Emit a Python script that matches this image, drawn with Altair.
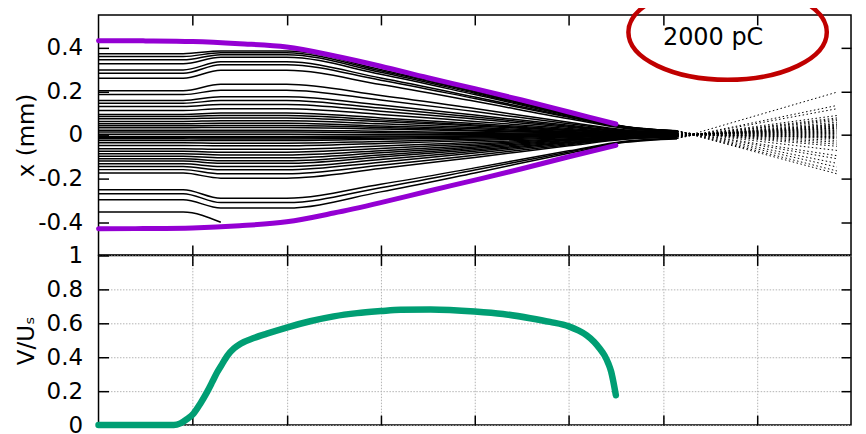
import altair as alt
import pandas as pd

FONT = "DejaVu Sans"

# ---------------- data ----------------
X_NODES = [0.0, 0.9, 1.3, 2.0, 3.0, 4.0, 5.0, 5.6, 6.15]
TRAJ = [
    [0.372, 0.372, 0.385, 0.385, 0.300, 0.200, 0.096, 0.039, 0.019],
    [0.359, 0.359, 0.377, 0.377, 0.294, 0.196, 0.094, 0.038, 0.019],
    [0.344, 0.344, 0.368, 0.368, 0.287, 0.191, 0.092, 0.037, 0.018],
    [0.326, 0.326, 0.356, 0.356, 0.278, 0.185, 0.089, 0.036, 0.018],
    [0.298, 0.298, 0.335, 0.335, 0.261, 0.174, 0.084, 0.034, 0.017],
    [0.283, 0.283, 0.322, 0.322, 0.251, 0.167, 0.081, 0.032, 0.016],
    [0.260, 0.260, 0.296, 0.296, 0.231, 0.154, 0.074, 0.030, 0.015],
    [0.202, 0.202, 0.232, 0.232, 0.181, 0.121, 0.058, 0.023, 0.012],
    [0.185, 0.185, 0.205, 0.205, 0.160, 0.107, 0.051, 0.021, 0.010],
    [0.158, 0.158, 0.175, 0.175, 0.137, 0.091, 0.044, 0.018, 0.009],
    [0.145, 0.145, 0.158, 0.158, 0.123, 0.082, 0.040, 0.016, 0.008],
    [0.130, 0.130, 0.140, 0.140, 0.109, 0.073, 0.035, 0.014, 0.007],
    [0.112, 0.112, 0.120, 0.120, 0.094, 0.062, 0.030, 0.012, 0.006],
    [0.094, 0.094, 0.100, 0.100, 0.078, 0.052, 0.025, 0.010, 0.005],
    [0.085, 0.085, 0.089, 0.089, 0.069, 0.046, 0.022, 0.009, 0.004],
    [0.074, 0.074, 0.078, 0.078, 0.061, 0.041, 0.020, 0.008, 0.004],
    [0.062, 0.062, 0.065, 0.065, 0.051, 0.034, 0.016, 0.007, 0.003],
    [0.051, 0.051, 0.053, 0.053, 0.041, 0.028, 0.013, 0.005, 0.003],
    [0.042, 0.042, 0.043, 0.043, 0.034, 0.022, 0.011, 0.004, 0.002],
    [0.033, 0.033, 0.034, 0.034, 0.027, 0.018, 0.009, 0.003, 0.002],
    [0.022, 0.022, 0.022, 0.022, 0.017, 0.011, 0.006, 0.002, 0.001],
    [0.013, 0.013, 0.013, 0.013, 0.010, 0.007, 0.003, 0.001, 0.001],
    [0.003, 0.003, 0.003, 0.003, 0.002, 0.002, 0.001, 0.000, 0.000],
    [-0.007, -0.007, -0.007, -0.007, -0.005, -0.004, -0.002, -0.001, 0.000],
    [-0.013, -0.013, -0.013, -0.013, -0.010, -0.007, -0.003, -0.001, -0.001],
    [-0.018, -0.018, -0.019, -0.019, -0.015, -0.010, -0.005, -0.002, -0.001],
    [-0.025, -0.025, -0.026, -0.026, -0.020, -0.014, -0.007, -0.003, -0.001],
    [-0.036, -0.036, -0.038, -0.038, -0.030, -0.020, -0.010, -0.004, -0.002],
    [-0.048, -0.048, -0.050, -0.050, -0.039, -0.026, -0.013, -0.005, -0.003],
    [-0.063, -0.063, -0.066, -0.066, -0.051, -0.034, -0.017, -0.007, -0.003],
    [-0.075, -0.075, -0.079, -0.079, -0.062, -0.041, -0.020, -0.008, -0.004],
    [-0.086, -0.086, -0.092, -0.092, -0.072, -0.048, -0.023, -0.009, -0.005],
    [-0.098, -0.098, -0.105, -0.105, -0.082, -0.055, -0.026, -0.011, -0.005],
    [-0.109, -0.109, -0.118, -0.118, -0.092, -0.061, -0.030, -0.012, -0.006],
    [-0.120, -0.120, -0.130, -0.130, -0.101, -0.068, -0.033, -0.013, -0.007],
    [-0.132, -0.132, -0.145, -0.145, -0.113, -0.075, -0.036, -0.015, -0.007],
    [-0.145, -0.145, -0.160, -0.160, -0.125, -0.083, -0.040, -0.016, -0.008],
    [-0.159, -0.159, -0.178, -0.178, -0.139, -0.093, -0.045, -0.018, -0.009],
    [-0.175, -0.175, -0.198, -0.198, -0.154, -0.103, -0.050, -0.020, -0.010],
    [-0.251, -0.251, -0.290, -0.290, -0.226, -0.151, -0.073, -0.029, -0.015],
    [-0.269, -0.269, -0.310, -0.310, -0.242, -0.161, -0.078, -0.031, -0.016],
    [-0.297, -0.297, -0.335, -0.335, -0.261, -0.174, -0.084, -0.034, -0.017],
]
FAN_X_END = 7.85
FAN_END = [-0.178, -0.165, -0.147, -0.130, -0.109, -0.095, -0.071, -0.052, -0.042,
           -0.033, -0.025, -0.017, -0.008, 0.000, 0.009, 0.006, -0.012, 0.012, 0.015,
           -0.004, 0.021, 0.018, -0.010, 0.024, 0.004, 0.030, 0.028, 0.035, 0.032,
           0.038, 0.041, 0.044, 0.048, 0.051, 0.058, 0.066, 0.072, 0.078, 0.089,
           0.120, 0.135, 0.196]
LOST_X = [0.0, 0.9, 1.3]
LOST_Y = [-0.353, -0.353, -0.400]

ENV_X = [0.0, 0.5, 1.0, 1.5, 2.0, 2.5, 3.0, 3.5, 4.0, 4.5, 5.0, 5.5]
ENV_UP = [0.432, 0.431, 0.428, 0.418, 0.403, 0.363, 0.315, 0.262, 0.212, 0.160, 0.105, 0.050]
ENV_LO = [-0.430, -0.429, -0.426, -0.416, -0.398, -0.358, -0.310, -0.258, -0.207, -0.155, -0.100, -0.048]

V_X = [0.0, 0.5, 0.80, 0.87, 0.94, 1.01, 1.08, 1.155, 1.21, 1.26, 1.32, 1.37, 1.44, 1.51,
       1.65, 1.79, 2.0, 2.25, 2.5, 2.75, 3.0, 3.21, 3.53, 4.0, 4.3, 4.59, 4.8, 5.0, 5.1,
       5.19, 5.27, 5.33, 5.38, 5.42, 5.45, 5.47, 5.5]
V_Y = [0.0, 0.0, 0.0, 0.01, 0.035, 0.068, 0.125, 0.196, 0.255, 0.31, 0.365, 0.41, 0.452,
       0.48, 0.513, 0.539, 0.575, 0.612, 0.641, 0.66, 0.672, 0.68, 0.682, 0.670, 0.655,
       0.63, 0.608, 0.582, 0.558, 0.529, 0.49, 0.45, 0.41, 0.363, 0.315, 0.265, 0.176]

X_TICKS = [1, 2, 3, 4, 5, 6, 7]
Y_TICKS_TOP = [-0.4, -0.2, 0, 0.2, 0.4]
Y_TICKS_BOT = [0, 0.2, 0.4, 0.6, 0.8, 1]

LABEL_TEXT = "2000 pC"
LABEL_POS = {"x": [6.534], "y": [0.41]}
ELLIPSE_POS = {"x": [6.688], "y": [0.4705]}

# ---------------- tables ----------------
rows = []
for i, tr in enumerate(TRAJ):
    for xv, yv in zip(X_NODES, tr):
        rows.append({"id": i, "x": xv, "y": yv})
df_traj = pd.DataFrame(rows)

fan_rows = []
for i, tr in enumerate(TRAJ):
    fan_rows.append({"id": i, "x": X_NODES[-1], "y": tr[-1]})
    fan_rows.append({"id": i, "x": FAN_X_END, "y": FAN_END[i]})
df_fan = pd.DataFrame(fan_rows)

df_lost = pd.DataFrame({"x": LOST_X, "y": LOST_Y})
df_env = pd.DataFrame(
    {"x": ENV_X + ENV_X, "y": ENV_UP + ENV_LO,
     "side": ["up"] * len(ENV_X) + ["lo"] * len(ENV_X)}
)
df_v = pd.DataFrame({"x": V_X, "v": V_Y})
df_label = pd.DataFrame(LABEL_POS)
df_ell = pd.DataFrame(ELLIPSE_POS)

# ---------------- scales / axes ----------------
W = 754
H_TOP = 240.5
H_BOT = 170

xs = alt.Scale(domain=[0, 8], nice=False, zero=False)
ys_top = alt.Scale(domain=[-0.55, 0.55], nice=False, zero=False)
ys_bot = alt.Scale(domain=[0, 1], nice=False, zero=False)

TICK = dict(domain=False, ticks=True, tickSize=10, offset=-10, tickColor="black",
            tickWidth=1.5)


def plain_axis(orient, values, grid=False):
    return alt.Axis(orient=orient, values=values, labels=False, grid=grid,
                    gridColor="#b4b4b4", gridDash=[1.5, 1.5], gridWidth=1,
                    title=None, **TICK)


def left_axis(values, title, h, grid=False):
    return alt.Axis(orient="left", values=values, labels=True, grid=grid,
                    gridColor="#b4b4b4", gridDash=[1.5, 1.5], gridWidth=1,
                    labelExpr="'' + datum.value", labelPadding=16,
                    labelFontSize=23, labelFont=FONT, labelColor="black",
                    labelOverlap=False,
                    title=title, titleFont=FONT, titleFontSize=23,
                    titleFontWeight="normal", titleColor="black",
                    titleAngle=270, titleBaseline="alphabetic",
                    titleX=-74.7, titleY=h / 2, **TICK)


# ---------------- top panel ----------------
traj = alt.Chart(df_traj).mark_line(
    color="black", strokeWidth=1.5, interpolate="monotone"
).encode(
    x=alt.X("x:Q", scale=xs, axis=plain_axis("bottom", X_TICKS)),
    y=alt.Y("y:Q", scale=ys_top, axis=left_axis(Y_TICKS_TOP, "x (mm)", H_TOP)),
    detail="id:N",
)

fan = alt.Chart(df_fan).mark_line(
    color="black", strokeWidth=1.0, strokeDash=[1.5, 2.5]
).encode(
    x=alt.X("x:Q", scale=xs, axis=None),
    y=alt.Y("y:Q", scale=ys_top, axis=None),
    detail="id:N",
)

lost = alt.Chart(df_lost).mark_line(
    color="black", strokeWidth=1.5, interpolate="monotone"
).encode(
    x=alt.X("x:Q", scale=xs, axis=None),
    y=alt.Y("y:Q", scale=ys_top, axis=None),
)

env = alt.Chart(df_env).mark_line(
    color="#9400D3", strokeWidth=5, strokeCap="round", interpolate="monotone"
).encode(
    x=alt.X("x:Q", scale=xs, axis=plain_axis("top", X_TICKS)),
    y=alt.Y("y:Q", scale=ys_top, axis=plain_axis("right", Y_TICKS_TOP)),
    detail="side:N",
)

ELLIPSE_PATH = "M-1,0A1,0.479,0,1,1,1,0A1,0.479,0,1,1,-1,0Z"
ell = alt.Chart(df_ell).mark_point(
    shape=ELLIPSE_PATH, size=39521, filled=False, stroke="#C00000",
    strokeWidth=4.5, opacity=1
).encode(
    x=alt.X("x:Q", scale=xs, axis=None),
    y=alt.Y("y:Q", scale=ys_top, axis=None),
)

label = alt.Chart(df_label).mark_text(
    text=LABEL_TEXT, font=FONT, fontSize=24, align="center",
    baseline="alphabetic", color="black"
).encode(
    x=alt.X("x:Q", scale=xs, axis=None),
    y=alt.Y("y:Q", scale=ys_top, axis=None),
)

top = alt.layer(traj, fan, lost, env, ell, label).resolve_axis(
    x="independent", y="independent"
).properties(width=W, height=H_TOP)

# ---------------- bottom panel ----------------
vline = alt.Chart(df_v).mark_line(
    color="#009E73", strokeWidth=6.5, strokeCap="round", interpolate="monotone"
).encode(
    x=alt.X("x:Q", scale=xs, axis=plain_axis("bottom", X_TICKS, grid=True)),
    y=alt.Y("v:Q", scale=ys_bot,
            axis=left_axis(Y_TICKS_BOT, "V/U\u209b", H_BOT, grid=True)),
)

vaxes = alt.Chart(df_v).mark_line(opacity=0).encode(
    x=alt.X("x:Q", scale=xs, axis=plain_axis("top", X_TICKS)),
    y=alt.Y("v:Q", scale=ys_bot, axis=plain_axis("right", [0.2, 0.4, 0.6, 0.8])),
)

bottom = alt.layer(vline, vaxes).resolve_axis(
    x="independent", y="independent"
).properties(width=W, height=H_BOT)

chart = alt.vconcat(top, bottom, spacing=0, bounds="flush").properties(
    padding={"left": 6.7, "top": -33.5, "right": 5, "bottom": 5}
).configure_view(stroke="black", strokeWidth=1.5)

chart.save("out.html", embed_options={"renderer": "svg", "actions": False})
